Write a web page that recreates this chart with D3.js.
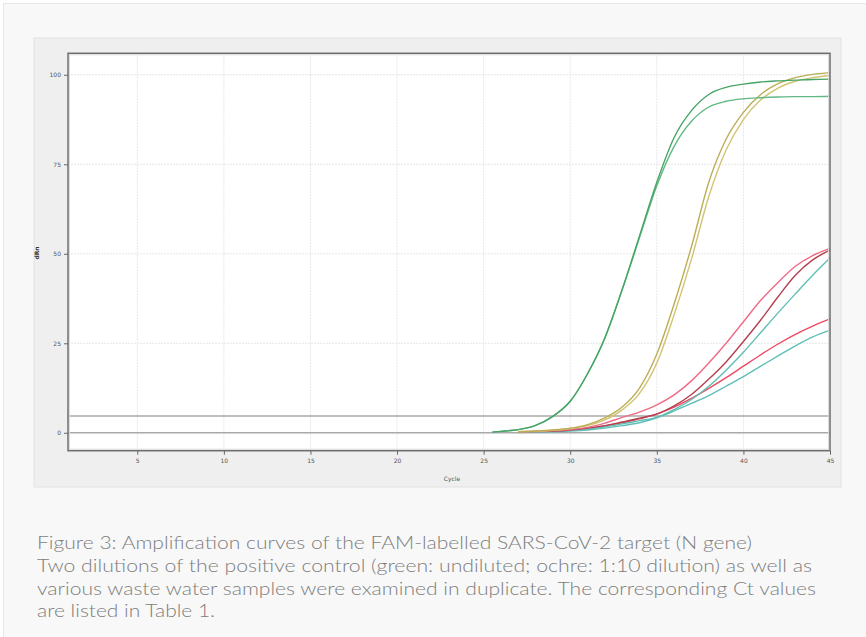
<!DOCTYPE html>
<html>
<head>
<meta charset="utf-8">
<script src="https://cdn.jsdelivr.net/npm/d3@7"></script>
<style>
  body { margin: 0; background: #fff; }
  svg { display: block; }
</style>
</head>
<body>
<svg id="chart" width="866" height="637"></svg>
<script>
// cycles where the software draws the curves
const cycles = [25.5, 26, 27, 28, 29, 30, 31, 32, 33, 34, 35, 36, 37, 38, 39, 40, 41, 42, 43, 44, 45];

// dRn per cycle for each well (null = not drawn)
const green1 = [0.2, 0.4, 0.9, 2.1, 4.6, 8.8, 16.5, 26.5, 40, 55, 70, 82.5, 90, 94.5, 96.5, 97.4, 98, 98.3, 98.5, 98.7, 98.8];
const green2 = [0.2, 0.4, 0.9, 2.1, 4.6, 8.8, 16.5, 26.5, 40, 54.5, 69, 80, 87, 91, 92.6, 93.3, 93.6, 93.8, 93.9, 93.9, 94];
const ochre1 = [null, null, 0.3, 0.5, 0.8, 1.3, 2.3, 4.2, 7.2, 12.5, 22, 36, 52, 70, 82, 89.5, 94.5, 97.5, 99.2, 100.1, 100.6];
const ochre2 = [null, null, 0.3, 0.4, 0.7, 1.2, 2.0, 3.6, 6.4, 11, 19.5, 33, 48.5, 66, 79, 87.5, 93, 96.3, 98.2, 99.2, 99.8];
const pink1 = [null, null, 0.3, 0.4, 0.6, 0.9, 1.5, 2.7, 4.3, 5.8, 7.8, 10.6, 14.5, 19.5, 25, 31, 37, 42, 46.5, 49.5, 51.5];
const darkRed1 = [null, null, 0.3, 0.4, 0.5, 0.8, 1.3, 2.0, 3.0, 4.1, 5.2, 7.5, 10.7, 15, 19.8, 25.5, 31.5, 38, 44, 48.3, 51];
const teal1 = [null, null, 0.2, 0.3, 0.5, 0.7, 1.1, 1.7, 2.5, 3.4, 4.3, 6.5, 9.3, 13, 17.5, 22.5, 28, 33.5, 38.8, 44, 48.8];
const red2 = [null, null, 0.2, 0.3, 0.5, 0.8, 1.2, 1.9, 2.8, 3.9, 5.3, 7.2, 9.6, 12.4, 15.4, 18.6, 21.8, 24.8, 27.5, 29.8, 31.8];
const teal2 = [null, null, 0.1, 0.2, 0.3, 0.5, 0.8, 1.3, 2.0, 2.8, 4.2, 6.1, 8.2, 10.4, 13, 15.7, 18.6, 21.5, 24.3, 26.8, 28.7];

const xTicks = [5, 10, 15, 20, 25, 30, 35, 40, 45];
const yTicks = [0, 25, 50, 75, 100];
const threshold = 4.7;

const captionLines = [
	'Figure 3: Amplification curves of the FAM-labelled SARS-CoV-2 target (N gene)',
	'Two dilutions of the positive control (green: undiluted; ochre: 1:10 dilution) as well as',
	'various waste water samples were examined in duplicate. The corresponding Ct values',
	'are listed in Table 1.',
];
const captionWidths = [715, 775, 779, 178];

const wells = [
	{ values: teal2, color: '#5fbfb6' },
	{ values: red2, color: '#ec4a62' },
	{ values: teal1, color: '#5fbfb6' },
	{ values: darkRed1, color: '#b4404e' },
	{ values: pink1, color: '#f06a86' },
	{ values: ochre2, color: '#d0c374' },
	{ values: ochre1, color: '#bcae55' },
	{ values: green2, color: '#62b884' },
	{ values: green1, color: '#46a465' },
];

const svg = d3.select('#chart');

// page panel
svg.append('rect')
	.attr('x', 3.5).attr('y', 3.5)
	.attr('width', 880).attr('height', 660)
	.attr('fill', '#f8f8f8')
	.attr('stroke', '#e8e8e8');

// screenshot panel
svg.append('rect')
	.attr('x', 34).attr('y', 38)
	.attr('width', 807).attr('height', 449)
	.attr('fill', '#efefef')
	.attr('stroke', '#e2e2e2');

const marginLeft = 68;
const marginRight = 830;
const marginTop = 53.3;
const marginBottom = 450.7;

const x = d3.scaleLinear().domain([1, 45]).range([marginLeft, marginRight]);
const y = d3.scaleLinear().domain([-5, 106]).range([marginBottom, marginTop]);

// plot area
svg.append('rect')
	.attr('x', marginLeft).attr('y', marginTop)
	.attr('width', marginRight - marginLeft).attr('height', marginBottom - marginTop)
	.attr('fill', '#fff');

// grid
svg.append('g')
	.selectAll('line')
	.data(xTicks.filter((d) => d < 45))
	.join('line')
	.attr('x1', (d) => x(d)).attr('x2', (d) => x(d))
	.attr('y1', marginTop).attr('y2', marginBottom)
	.attr('stroke', '#e6e6e6')
	.attr('stroke-dasharray', '2,1');

svg.append('g')
	.selectAll('line')
	.data(yTicks.filter((d) => d > 0))
	.join('line')
	.attr('x1', marginLeft).attr('x2', marginRight)
	.attr('y1', (d) => y(d)).attr('y2', (d) => y(d))
	.attr('stroke', '#e6e6e6')
	.attr('stroke-dasharray', '2,1');

// baseline and threshold
svg.append('g')
	.selectAll('line')
	.data([0, threshold])
	.join('line')
	.attr('x1', marginLeft).attr('x2', marginRight)
	.attr('y1', (d) => y(d)).attr('y2', (d) => y(d))
	.attr('stroke', '#a9a9a9')
	.attr('stroke-width', 1.6);

// curves
const line = d3.line()
	.defined((d) => d[1] != null)
	.x((d) => x(d[0]))
	.y((d) => y(d[1]))
	.curve(d3.curveMonotoneX);

svg.append('g')
	.attr('fill', 'none')
	.selectAll('path')
	.data(wells)
	.join('path')
	.attr('stroke', (d) => d.color)
	.attr('stroke-width', 1.4)
	.attr('d', (d) => line(cycles.map((c, i) => [c, d.values[i]])));

// frame (with a light shadow line like the software window)
svg.append('rect')
	.attr('x', marginLeft + 1.5).attr('y', marginTop + 1.5)
	.attr('width', marginRight - marginLeft - 3).attr('height', marginBottom - marginTop - 3)
	.attr('fill', 'none')
	.attr('stroke', '#dcdcdc')
	.attr('stroke-width', 1);
svg.append('rect')
	.attr('x', marginLeft).attr('y', marginTop)
	.attr('width', marginRight - marginLeft).attr('height', marginBottom - marginTop)
	.attr('fill', 'none')
	.attr('stroke', '#6e6e6e')
	.attr('stroke-width', 1.5);

// axes
const xAxis = svg.append('g')
	.attr('transform', `translate(0,${marginBottom})`)
	.call(d3.axisBottom(x).tickValues(xTicks).tickSize(4).tickPadding(4));
const yAxis = svg.append('g')
	.attr('transform', `translate(${marginLeft},0)`)
	.call(d3.axisLeft(y).tickValues(yTicks).tickSize(4).tickPadding(3));

[xAxis, yAxis].forEach((g) => {
	g.select('.domain').remove();
	g.selectAll('.tick line').attr('stroke', '#666');
	g.selectAll('.tick text')
		.attr('fill', '#555')
		.style('font', '6px "DejaVu Sans"');
});

svg.append('text')
	.attr('transform', `translate(39,253) rotate(-90)`)
	.attr('text-anchor', 'middle')
	.attr('fill', '#333')
	.style('font', 'bold 6px "DejaVu Sans"')
	.text('dRn');

svg.append('text')
	.attr('x', 452).attr('y', 481)
	.attr('text-anchor', 'middle')
	.attr('fill', '#555')
	.style('font', '6px "DejaVu Sans"')
	.text('Cycle');

// caption
svg.append('g')
	.selectAll('text')
	.data(captionLines)
	.join('text')
	.attr('x', 37)
	.attr('y', (d, i) => 549 + i * 22.8)
	.attr('textLength', (d, i) => captionWidths[i])
	.attr('lengthAdjust', 'spacingAndGlyphs')
	.attr('fill', '#7d7d7d')
	.style('font', '300 17.5px Lato')
	.text((d) => d);
</script>
</body>
</html>
